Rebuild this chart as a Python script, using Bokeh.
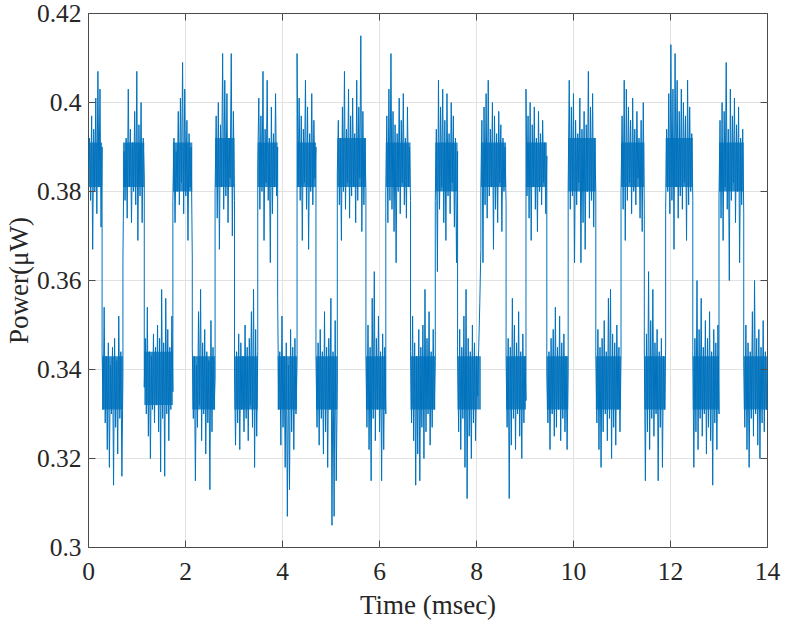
import numpy as np
from bokeh.plotting import figure
from bokeh.models import Range1d, FixedTicker, LinearAxis, CustomLabelingPolicy
from bokeh.embed import file_html
from bokeh.resources import INLINE

# segment boundaries in msec (alternating high / low power levels)
seg_edges = [0.0, 0.28, 0.71, 1.15, 1.74, 2.14, 2.61, 3.01, 3.49, 3.90, 4.30,
             4.69, 5.13, 5.72, 6.13, 6.64, 7.15, 7.61, 8.09, 8.61, 9.02,
             9.45, 9.89, 10.46, 10.98, 11.46, 11.90, 12.46, 13.00, 13.51, 14.0]

# dense noise band (where the trace is solid) in each segment, uW
core_lo = [0.381, 0.331, 0.381, 0.332, 0.380, 0.331, 0.381, 0.331, 0.381, 0.331,
           0.381, 0.331, 0.381, 0.331, 0.381, 0.331, 0.380, 0.331, 0.381, 0.331,
           0.381, 0.331, 0.380, 0.331, 0.381, 0.331, 0.381, 0.331, 0.380, 0.331]
core_hi = [0.391, 0.343, 0.391, 0.344, 0.391, 0.343, 0.392, 0.343, 0.391, 0.343,
           0.391, 0.343, 0.392, 0.343, 0.391, 0.343, 0.391, 0.343, 0.391, 0.343,
           0.391, 0.343, 0.392, 0.343, 0.391, 0.343, 0.392, 0.343, 0.391, 0.343]

seg00 = [0.385, 0.392, 0.378, 0.397, 0.367, 0.394, 0.380, 0.401, 0.375, 0.407, 0.381, 0.403, 0.372, 0.390]
seg01 = [0.344, 0.331, 0.354, 0.328, 0.343, 0.322, 0.346, 0.318, 0.341, 0.330, 0.345, 0.314, 0.347, 0.327, 0.342, 0.321, 0.352, 0.329, 0.344, 0.316, 0.339]
seg02 = [0.365, 0.389, 0.378, 0.392, 0.374, 0.403, 0.381, 0.394, 0.373, 0.391, 0.380, 0.398, 0.377, 0.407, 0.369, 0.395, 0.379, 0.400, 0.373, 0.392, 0.383]
seg03 = [0.336, 0.347, 0.330, 0.354, 0.325, 0.344, 0.320, 0.343, 0.331, 0.348, 0.328, 0.345, 0.332, 0.350, 0.326, 0.347, 0.317, 0.358, 0.329, 0.346, 0.316, 0.356, 0.330, 0.349, 0.324, 0.345, 0.331, 0.352, 0.335]
seg04 = [0.378, 0.392, 0.373, 0.389, 0.380, 0.398, 0.377, 0.401, 0.382, 0.409, 0.375, 0.403, 0.379, 0.396, 0.369, 0.393, 0.381, 0.390, 0.365]
seg05 = [0.345, 0.329, 0.343, 0.315, 0.341, 0.327, 0.353, 0.332, 0.358, 0.324, 0.346, 0.330, 0.349, 0.321, 0.344, 0.328, 0.342, 0.313, 0.351, 0.326, 0.345, 0.331, 0.338]
seg06 = [0.380, 0.397, 0.374, 0.400, 0.367, 0.395, 0.381, 0.411, 0.376, 0.405, 0.379, 0.402, 0.373, 0.392, 0.383, 0.411, 0.370, 0.398, 0.378]
seg07 = [0.339, 0.323, 0.344, 0.328, 0.348, 0.322, 0.346, 0.331, 0.343, 0.326, 0.350, 0.329, 0.345, 0.324, 0.347, 0.332, 0.353, 0.327, 0.358, 0.318, 0.349, 0.325, 0.344]
seg08 = [0.386, 0.401, 0.376, 0.397, 0.380, 0.407, 0.369, 0.394, 0.382, 0.405, 0.378, 0.392, 0.364, 0.399, 0.375, 0.393, 0.381, 0.402, 0.379, 0.390]
seg09 = [0.356, 0.331, 0.344, 0.323, 0.352, 0.327, 0.343, 0.318, 0.346, 0.307, 0.341, 0.313, 0.349, 0.326, 0.345, 0.322, 0.347, 0.330, 0.342]
seg10 = [0.411, 0.381, 0.401, 0.378, 0.397, 0.369, 0.394, 0.382, 0.405, 0.376, 0.399, 0.367, 0.393, 0.380, 0.402, 0.377, 0.396, 0.383, 0.390]
seg11 = [0.343, 0.327, 0.346, 0.323, 0.349, 0.329, 0.344, 0.321, 0.353, 0.326, 0.345, 0.318, 0.347, 0.331, 0.356, 0.305, 0.344, 0.307, 0.351, 0.315, 0.337]
seg12 = [0.384, 0.396, 0.377, 0.392, 0.369, 0.399, 0.380, 0.407, 0.376, 0.394, 0.382, 0.403, 0.374, 0.397, 0.379, 0.401, 0.381, 0.393, 0.373, 0.405, 0.378, 0.399, 0.383, 0.415, 0.371, 0.398, 0.377, 0.392, 0.380]
seg13 = [0.343, 0.327, 0.350, 0.322, 0.345, 0.315, 0.356, 0.329, 0.362, 0.324, 0.347, 0.331, 0.352, 0.326, 0.344, 0.315, 0.348, 0.322, 0.345, 0.330]
seg14 = [0.380, 0.397, 0.373, 0.403, 0.378, 0.411, 0.376, 0.398, 0.371, 0.395, 0.364, 0.393, 0.380, 0.401, 0.375, 0.396, 0.382, 0.402, 0.377, 0.392, 0.374, 0.399, 0.381, 0.390, 0.378]
seg15 = [0.344, 0.328, 0.352, 0.324, 0.346, 0.314, 0.343, 0.321, 0.349, 0.315, 0.345, 0.327, 0.350, 0.320, 0.358, 0.326, 0.347, 0.330, 0.353, 0.323, 0.344, 0.327, 0.349, 0.331, 0.342]
seg16 = [0.378, 0.394, 0.362, 0.405, 0.376, 0.399, 0.381, 0.403, 0.373, 0.396, 0.369, 0.402, 0.379, 0.393, 0.375, 0.400, 0.382, 0.397, 0.372, 0.392, 0.364, 0.389]
seg17 = [0.343, 0.326, 0.349, 0.322, 0.345, 0.329, 0.352, 0.318, 0.358, 0.311, 0.347, 0.325, 0.344, 0.320, 0.350, 0.328, 0.346, 0.324, 0.343, 0.334, 0.345, 0.355, 0.367]
seg18 = [0.380, 0.396, 0.364, 0.399, 0.377, 0.402, 0.374, 0.405, 0.379, 0.394, 0.381, 0.400, 0.367, 0.397, 0.376, 0.393, 0.373, 0.398, 0.382, 0.395, 0.371, 0.392, 0.380, 0.390, 0.377]
seg19 = [0.342, 0.327, 0.347, 0.311, 0.345, 0.323, 0.356, 0.329, 0.350, 0.322, 0.346, 0.330, 0.353, 0.325, 0.344, 0.320, 0.348, 0.328, 0.343, 0.333]
seg20 = [0.403, 0.379, 0.397, 0.374, 0.400, 0.369, 0.395, 0.381, 0.399, 0.376, 0.392, 0.371, 0.398, 0.380, 0.393, 0.377, 0.396, 0.382, 0.391, 0.375, 0.388]
seg21 = [0.339, 0.328, 0.344, 0.322, 0.347, 0.330, 0.349, 0.325, 0.354, 0.327, 0.345, 0.331, 0.352, 0.324, 0.346, 0.329, 0.348, 0.326, 0.343, 0.322, 0.340]
seg22 = [0.381, 0.405, 0.376, 0.399, 0.379, 0.402, 0.364, 0.396, 0.377, 0.393, 0.382, 0.401, 0.364, 0.394, 0.373, 0.398, 0.367, 0.395, 0.380, 0.407, 0.374, 0.399, 0.378, 0.402, 0.372, 0.392, 0.380]
seg23 = [0.344, 0.328, 0.349, 0.322, 0.345, 0.318, 0.347, 0.326, 0.351, 0.330, 0.344, 0.324, 0.356, 0.329, 0.358, 0.320, 0.348, 0.327, 0.346, 0.323, 0.350, 0.331, 0.345, 0.326, 0.343]
seg24 = [0.380, 0.397, 0.376, 0.405, 0.369, 0.403, 0.378, 0.399, 0.382, 0.396, 0.375, 0.401, 0.380, 0.394, 0.377, 0.398, 0.383, 0.392, 0.374, 0.396, 0.371, 0.400, 0.376]
seg25 = [0.345, 0.315, 0.348, 0.326, 0.362, 0.322, 0.351, 0.329, 0.358, 0.325, 0.346, 0.330, 0.349, 0.315, 0.344, 0.327, 0.347, 0.318, 0.343, 0.331, 0.345]
seg26 = [0.376, 0.394, 0.380, 0.402, 0.375, 0.413, 0.378, 0.403, 0.367, 0.411, 0.381, 0.405, 0.374, 0.398, 0.379, 0.403, 0.376, 0.400, 0.382, 0.397, 0.369, 0.405, 0.377, 0.399, 0.380, 0.393, 0.378]
seg27 = [0.344, 0.318, 0.347, 0.326, 0.360, 0.322, 0.349, 0.329, 0.356, 0.325, 0.345, 0.330, 0.351, 0.321, 0.347, 0.327, 0.353, 0.324, 0.344, 0.314, 0.349, 0.328, 0.346, 0.322, 0.350, 0.330]
seg28 = [0.379, 0.396, 0.374, 0.400, 0.369, 0.398, 0.381, 0.409, 0.376, 0.394, 0.360, 0.403, 0.378, 0.397, 0.382, 0.401, 0.373, 0.395, 0.380, 0.399, 0.364, 0.392, 0.377, 0.394, 0.375]
seg29 = [0.342, 0.327, 0.350, 0.322, 0.346, 0.318, 0.344, 0.329, 0.353, 0.325, 0.360, 0.330, 0.347, 0.323, 0.349, 0.320, 0.345, 0.328, 0.351, 0.326, 0.344, 0.331, 0.340]

segments = [seg00, seg01, seg02, seg03, seg04, seg05, seg06, seg07, seg08, seg09,
            seg10, seg11, seg12, seg13, seg14, seg15, seg16, seg17, seg18, seg19,
            seg20, seg21, seg22, seg23, seg24, seg25, seg26, seg27, seg28, seg29]

x_ticks = [0, 2, 4, 6, 8, 10, 12, 14]
x_tick_labels = ["0", "2", "4", "6", "8", "10", "12", "14"]
y_ticks = [0.3, 0.32, 0.34, 0.36, 0.38, 0.4, 0.42]
y_tick_labels = ["0.3", "0.32", "0.34", "0.36", "0.38", "0.4", "0.42"]

# assemble time series
t_all, p_all = [], []
for k, vals in enumerate(segments):
    t = np.linspace(seg_edges[k], seg_edges[k + 1], len(vals))
    t_all.extend(t.tolist())
    p_all.extend(vals)

FONT = "Liberation Serif"
AX = "#4a4a4a"
BLUE = "#0072BD"

p = figure(width=786, height=628, x_range=Range1d(0, 14), y_range=Range1d(0.3, 0.42),
           output_backend="svg", toolbar_location=None,
           min_border_left=88, min_border_right=19, min_border_top=13, min_border_bottom=81)
p.background_fill_color = "white"
p.border_fill_color = "white"
p.outline_line_color = AX
p.outline_line_width = 1

p.quad(left=seg_edges[:-1], right=seg_edges[1:], bottom=core_lo, top=core_hi,
       fill_color=BLUE, fill_alpha=0.8, line_color=None)
p.line(t_all, p_all, line_color=BLUE, line_width=1.0)

p.xaxis.ticker = FixedTicker(ticks=x_ticks)
p.yaxis.ticker = FixedTicker(ticks=y_ticks)
p.xaxis.major_label_overrides = {t: s for t, s in zip(x_ticks, x_tick_labels)}
p.yaxis.major_label_overrides = {t: s for t, s in zip(y_ticks, y_tick_labels)}
p.xgrid.ticker = FixedTicker(ticks=x_ticks)
p.ygrid.ticker = FixedTicker(ticks=y_ticks)
p.grid.grid_line_color = "#e2e2e2"
p.grid.grid_line_width = 1

for ax in (p.xaxis[0], p.yaxis[0]):
    ax.axis_line_color = None
    ax.major_tick_in = 7
    ax.major_tick_out = 0
    ax.minor_tick_line_color = None
    ax.major_tick_line_color = AX
    ax.major_label_text_font = FONT
    ax.major_label_text_font_size = "25.5px"
    ax.major_label_text_color = "#262626"
    ax.axis_label_text_font = FONT
    ax.axis_label_text_font_size = "27px"
    ax.axis_label_text_font_style = "normal"
    ax.axis_label_text_color = "#262626"

p.xaxis.axis_label = "Time (msec)"
p.yaxis.axis_label = "Power(\u03bcW)"
p.xaxis.major_label_standoff = 15
p.xaxis.axis_label_standoff = 7
p.yaxis.major_label_standoff = 7
p.yaxis.axis_label_standoff = 0

# mirrored inward ticks on top and right (no labels)
no_labels = CustomLabelingPolicy(code="""
    for (const i of indices) { indices.unset(i) }
    return indices
""")
top = LinearAxis(ticker=FixedTicker(ticks=x_ticks))
right = LinearAxis(ticker=FixedTicker(ticks=y_ticks))
for ax in (top, right):
    ax.axis_line_color = None
    ax.major_tick_in = 7
    ax.major_tick_out = 0
    ax.minor_tick_line_color = None
    ax.major_tick_line_color = AX
    ax.major_label_policy = no_labels
    ax.major_label_text_font_size = "1px"
    ax.major_label_standoff = 0
p.add_layout(top, "above")
p.add_layout(right, "right")

open("out.html", "w").write(file_html(p, INLINE))
